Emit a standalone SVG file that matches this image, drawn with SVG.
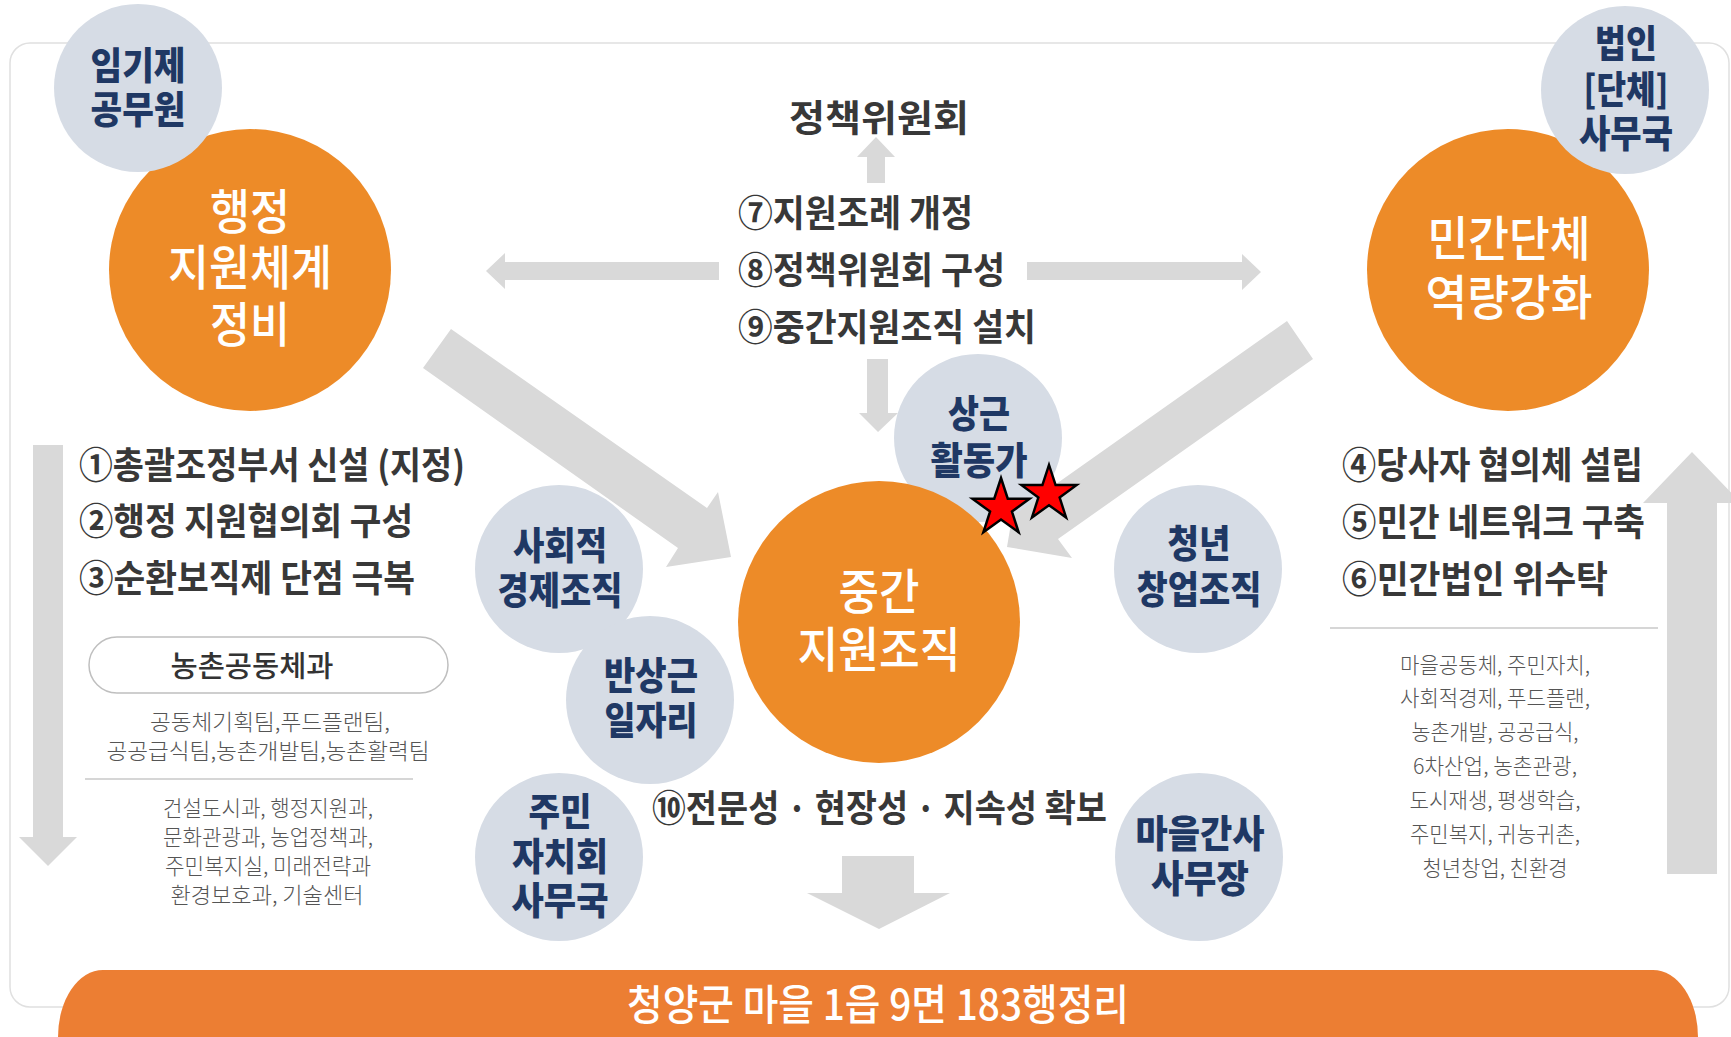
<svg xmlns="http://www.w3.org/2000/svg" width="1731" height="1037" viewBox="0 0 1731 1037">
<style>
text{font-family:"Noto Sans CJK KR","Noto Sans",sans-serif}
.arr{fill:#D9D9D9}
.oc{fill:#ED8B28}
.gc{fill:#D6DCE5}
.ot{fill:#FFFFFF;font-size:48px;font-weight:500;text-anchor:middle}
.nt{fill:#1F3864;font-size:38px;font-weight:900;text-anchor:middle}
.mt{fill:#383838;font-size:37px;font-weight:700}
.st{fill:#555555;font-size:22px;font-weight:300;text-anchor:middle}
.sep{stroke:#C9C9C9;stroke-width:1.5}
.star{fill:#FF0000;stroke:#000000;stroke-width:2.5;stroke-linejoin:miter}
</style>
<defs>
<polygon id="starShape" points="0,-30 6.76,-9.3 28.53,-9.27 10.94,3.55 17.63,24.27 0,11.5 -17.63,24.27 -10.94,3.55 -28.53,-9.27 -6.76,-9.3"/>
</defs>
<rect width="1731" height="1037" fill="#FFFFFF"/>
<rect x="10" y="43" width="1719" height="964" rx="20" fill="none" stroke="#E0E0E0" stroke-width="1.5"/>

<g id="connectors">
<polygon class="arr" points="885,183 867,183 867,157 857,157 876,137 895,157 885,157"/>
<polygon class="arr" points="719,262 719,280 505,280 505,289 486,271 505,253 505,262"/>
<polygon class="arr" points="1027,262 1027,280 1242,280 1242,290 1261,272 1242,254 1242,262"/>
<polygon class="arr" points="867,359 888,359 888,413 898,413 878,432 859,413 867,413"/>
<polygon class="arr" points="451,329 707,508 718,492 731,557 666,567 678,548 423,368"/>
<polygon class="arr" points="1287,321 1313,359 1058,539 1072,558 1007,547 1018,482 1032,501"/>
<polygon class="arr" points="33,445 63,445 63,837 77,837 48,866 19,837 33,837"/>
<polygon class="arr" points="1667,874 1717,874 1717,503 1741,503 1692,452 1643,503 1667,503"/>
<polygon class="arr" points="842,856 914,856 914,893 950,893 879,929 807,893 842,893"/>
</g>

<g id="node-haengjeong">
<circle class="oc" cx="250" cy="270" r="141"/>
<text class="ot" x="250" y="229" textLength="80" lengthAdjust="spacingAndGlyphs">행정</text>
<text class="ot" x="250" y="285" textLength="164" lengthAdjust="spacingAndGlyphs">지원체계</text>
<text class="ot" x="250" y="342" textLength="80" lengthAdjust="spacingAndGlyphs">정비</text>
</g>
<g id="node-imgije">
<circle class="gc" cx="138" cy="88" r="84"/>
<text class="nt" x="138" y="79" textLength="95" lengthAdjust="spacingAndGlyphs">임기제</text>
<text class="nt" x="138" y="123" textLength="95" lengthAdjust="spacingAndGlyphs">공무원</text>
</g>

<g id="node-mingan">
<circle class="oc" cx="1508" cy="270" r="141"/>
<text class="ot" x="1509" y="256" textLength="163" lengthAdjust="spacingAndGlyphs">민간단체</text>
<text class="ot" x="1509" y="315" textLength="167" lengthAdjust="spacingAndGlyphs">역량강화</text>
</g>
<g id="node-beobin">
<circle class="gc" cx="1625" cy="90" r="84"/>
<text class="nt" x="1626" y="57" textLength="62" lengthAdjust="spacingAndGlyphs">법인</text>
<text class="nt" x="1626" y="103" textLength="85" lengthAdjust="spacingAndGlyphs">[단체]</text>
<text class="nt" x="1626" y="147" textLength="94" lengthAdjust="spacingAndGlyphs">사무국</text>
</g>

<g id="node-policy">
<text class="mt" x="879" y="132" font-size="42" text-anchor="middle" textLength="180" lengthAdjust="spacingAndGlyphs">정책위원회</text>
</g>
<g id="node-center-items">
<text class="mt" x="738" y="227" textLength="235" lengthAdjust="spacingAndGlyphs">⑦지원조례 개정</text>
<text class="mt" x="738" y="284" textLength="267" lengthAdjust="spacingAndGlyphs">⑧정책위원회 구성</text>
<text class="mt" x="738" y="341" textLength="298" lengthAdjust="spacingAndGlyphs">⑨중간지원조직 설치</text>
</g>

<g id="node-sanggeun">
<circle class="gc" cx="978" cy="438" r="84"/>
<text class="nt" x="979" y="427" textLength="62" lengthAdjust="spacingAndGlyphs">상근</text>
<text class="nt" x="979" y="474" textLength="97" lengthAdjust="spacingAndGlyphs">활동가</text>
</g>
<g id="node-social">
<circle class="gc" cx="559" cy="569" r="84"/>
<text class="nt" x="560" y="559" textLength="94" lengthAdjust="spacingAndGlyphs">사회적</text>
<text class="nt" x="560" y="604" textLength="125" lengthAdjust="spacingAndGlyphs">경제조직</text>
</g>
<g id="node-bansanggeun">
<circle class="gc" cx="650" cy="700" r="84"/>
<text class="nt" x="651" y="689" textLength="94" lengthAdjust="spacingAndGlyphs">반상근</text>
<text class="nt" x="651" y="734" textLength="93" lengthAdjust="spacingAndGlyphs">일자리</text>
</g>
<g id="node-youth">
<circle class="gc" cx="1198" cy="569" r="84"/>
<text class="nt" x="1199" y="557" textLength="63" lengthAdjust="spacingAndGlyphs">청년</text>
<text class="nt" x="1199" y="603" textLength="125" lengthAdjust="spacingAndGlyphs">창업조직</text>
</g>
<g id="node-jumin">
<circle class="gc" cx="559" cy="857" r="84"/>
<text class="nt" x="560" y="825" textLength="63" lengthAdjust="spacingAndGlyphs">주민</text>
<text class="nt" x="560" y="870" textLength="96" lengthAdjust="spacingAndGlyphs">자치회</text>
<text class="nt" x="560" y="914" textLength="97" lengthAdjust="spacingAndGlyphs">사무국</text>
</g>
<g id="node-maeul">
<circle class="gc" cx="1199" cy="857" r="84"/>
<text class="nt" x="1200" y="847" textLength="129" lengthAdjust="spacingAndGlyphs">마을간사</text>
<text class="nt" x="1200" y="892" textLength="98" lengthAdjust="spacingAndGlyphs">사무장</text>
</g>
<g id="node-junggan">
<circle class="oc" cx="879" cy="622" r="141"/>
<text class="ot" x="879" y="609" textLength="81" lengthAdjust="spacingAndGlyphs">중간</text>
<text class="ot" x="879" y="667" textLength="163" lengthAdjust="spacingAndGlyphs">지원조직</text>
</g>
<g id="stars">
<use href="#starShape" class="star" transform="translate(1001,508)"/>
<use href="#starShape" class="star" transform="translate(1049,494) scale(0.97)"/>
</g>

<g id="node-left-items">
<text class="mt" x="79" y="479" textLength="386" lengthAdjust="spacingAndGlyphs">①총괄조정부서 신설 (지정)</text>
<text class="mt" x="79" y="535" textLength="334" lengthAdjust="spacingAndGlyphs">②행정 지원협의회 구성</text>
<text class="mt" x="79" y="592" textLength="336" lengthAdjust="spacingAndGlyphs">③순환보직제 단점 극복</text>
<rect x="89" y="637" width="359" height="56" rx="28" fill="#FFFFFF" stroke="#BFBFBF" stroke-width="1.5"/>
<text x="252" y="677" font-size="29" font-weight="500" fill="#333333" text-anchor="middle" textLength="163" lengthAdjust="spacingAndGlyphs">농촌공동체과</text>
<text class="st" x="270" y="730" textLength="240" lengthAdjust="spacingAndGlyphs">공동체기획팀,푸드플랜팀,</text>
<text class="st" x="268" y="759" textLength="323" lengthAdjust="spacingAndGlyphs">공공급식팀,농촌개발팀,농촌활력팀</text>
<line class="sep" x1="85" y1="779" x2="413" y2="779"/>
<text class="st" x="268" y="816" textLength="210" lengthAdjust="spacingAndGlyphs">건설도시과, 행정지원과,</text>
<text class="st" x="268" y="845" textLength="210" lengthAdjust="spacingAndGlyphs">문화관광과, 농업정책과,</text>
<text class="st" x="268" y="874" textLength="206" lengthAdjust="spacingAndGlyphs">주민복지실, 미래전략과</text>
<text class="st" x="267" y="903" textLength="193" lengthAdjust="spacingAndGlyphs">환경보호과, 기술센터</text>
</g>

<g id="node-right-items">
<text class="mt" x="1342" y="479" textLength="301" lengthAdjust="spacingAndGlyphs">④당사자 협의체 설립</text>
<text class="mt" x="1342" y="536" textLength="303" lengthAdjust="spacingAndGlyphs">⑤민간 네트워크 구축</text>
<text class="mt" x="1342" y="593" textLength="266" lengthAdjust="spacingAndGlyphs">⑥민간법인 위수탁</text>
<line class="sep" x1="1330" y1="628" x2="1658" y2="628"/>
<text class="st" x="1495" y="673" font-size="24" textLength="190" lengthAdjust="spacingAndGlyphs">마을공동체, 주민자치,</text>
<text class="st" x="1495" y="706" font-size="24" textLength="190" lengthAdjust="spacingAndGlyphs">사회적경제, 푸드플랜,</text>
<text class="st" x="1495" y="740" font-size="24" textLength="167" lengthAdjust="spacingAndGlyphs">농촌개발, 공공급식,</text>
<text class="st" x="1495" y="774" font-size="24" textLength="164" lengthAdjust="spacingAndGlyphs">6차산업, 농촌관광,</text>
<text class="st" x="1495" y="808" font-size="24" textLength="171" lengthAdjust="spacingAndGlyphs">도시재생, 평생학습,</text>
<text class="st" x="1495" y="842" font-size="24" textLength="170" lengthAdjust="spacingAndGlyphs">주민복지, 귀농귀촌,</text>
<text class="st" x="1495" y="876" font-size="24" textLength="145" lengthAdjust="spacingAndGlyphs">청년창업, 친환경</text>
</g>

<g id="node-item10">
<text class="mt" x="652" y="822" textLength="455" lengthAdjust="spacingAndGlyphs">⑩전문성 · 현장성 · 지속성 확보</text>
</g>

<g id="node-bottom-bar">
<rect x="58" y="970" width="1640" height="134" rx="45" ry="67" fill="#EC7E33"/>
<text x="878" y="1020" font-size="42" font-weight="500" fill="#FFFFFF" text-anchor="middle" textLength="502" lengthAdjust="spacingAndGlyphs">청양군 마을 1읍 9면 183행정리</text>
</g>
</svg>
